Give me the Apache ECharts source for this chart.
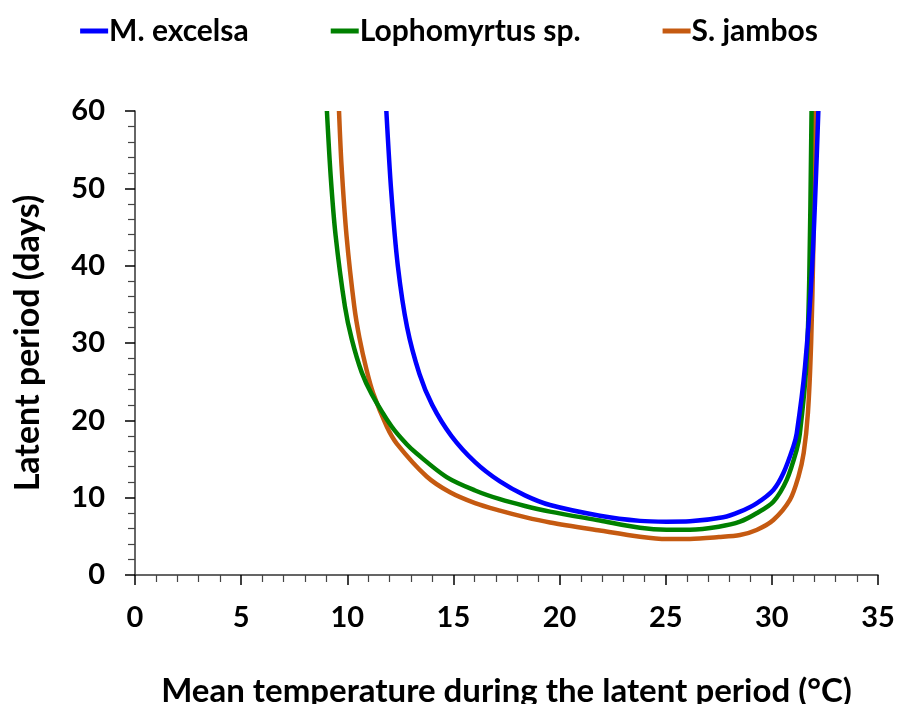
<!DOCTYPE html>
<html>
<head>
<meta charset="utf-8">
<script src="https://cdn.jsdelivr.net/npm/echarts@6/dist/echarts.min.js"></script>
<style>
html,body{margin:0;padding:0;background:#fff;}
#chart{width:898px;height:704px;}
</style>
</head>
<body>
<div id="chart"></div>
<script>
// Series names
var seriesNames = ['M. excelsa', 'Lophomyrtus sp.', 'S. jambos'];

// [temperature (°C), latent period (days)]
var mExcelsa = [
  [11.84, 60], [12.07, 49.6], [12.38, 40], [12.82, 32], [13.4, 26],
  [14.0, 22], [14.9, 18], [16.02, 14.6], [17.19, 12.1], [18.37, 10.3],
  [19.55, 9.05], [21.9, 7.67], [23.79, 7.0], [25.04, 6.9], [26.14, 6.95],
  [27.71, 7.46], [28.5, 8.19], [29.28, 9.27], [30.07, 11.0], [30.54, 13.15],
  [31.01, 16.6], [31.17, 18.3], [31.56, 26.9], [31.9, 40], [32.19, 60]
];
var lophomyrtus = [
  [9.04, 60], [9.22, 51.5], [9.45, 43.9], [9.89, 34.7], [10.21, 30.5],
  [10.68, 26.2], [11.15, 23.4], [12.09, 19.2], [12.8, 16.9], [13.27, 15.7],
  [14.68, 12.66], [16.02, 10.93], [17.19, 9.8], [18.37, 8.93], [19.55, 8.2],
  [21.9, 7.04], [23.79, 6.1], [25.04, 5.85], [26.14, 5.86], [27.5, 6.25],
  [28.5, 6.9], [29.28, 7.98], [30.07, 9.48], [30.7, 12.3], [31.17, 16.2],
  [31.32, 18.3], [31.62, 26.9], [31.76, 38], [31.87, 60]
];
var sJambos = [
  [9.61, 60], [9.73, 52.9], [9.97, 43.7], [10.33, 34.7], [10.57, 30.7],
  [10.91, 26.5], [11.22, 23.5], [11.86, 19.2], [12.33, 17.0], [13.74, 12.74],
  [14.84, 10.7], [16.02, 9.3], [17.19, 8.33], [18.37, 7.49], [19.55, 6.8],
  [21.9, 5.75], [23.79, 4.95], [25.04, 4.65], [26.14, 4.66], [27.5, 4.9],
  [28.5, 5.17], [29.28, 5.82], [30.07, 7.11], [30.85, 9.7], [31.25, 12.7],
  [31.5, 15.8], [31.7, 21.0], [31.85, 30], [31.95, 42], [32.03, 60]
];

var colors = ['#0000FF', '#008000', '#C55A11'];
var xTitle = 'Mean temperature during the latent period (°C)';
var yTitle = 'Latent period (days)';

var FONT = 'Lato';
var chart = echarts.init(document.getElementById('chart'));
var dataSets = [mExcelsa, lophomyrtus, sJambos];

chart.setOption({
  animation: false,
  backgroundColor: '#ffffff',
  textStyle: { fontFamily: FONT },
  color: colors,
  legend: {
    top: 11,
    left: 'center',
    itemGap: 82,
    itemWidth: 28,
    itemHeight: 5,
    icon: 'rect',
    textStyle: { fontFamily: FONT, fontWeight: 'bold', fontSize: 30, color: '#000', padding: [0, 0, 0, -4] },
    data: seriesNames
  },
  grid: { left: 135, right: 20, top: 111, bottom: 129, containLabel: false, outerBoundsMode: 'none' },
  xAxis: {
    type: 'value', min: 0, max: 35, interval: 5,
    name: xTitle, nameLocation: 'middle', nameGap: 100,
    nameTextStyle: { fontFamily: FONT, fontWeight: 'bold', fontSize: 33, color: '#000' },
    axisLine: { show: true, lineStyle: { color: '#333', width: 1.5 } },
    axisTick: { show: true, inside: false, length: 10, lineStyle: { color: '#000', width: 1.5 } },
    minorTick: { show: true, splitNumber: 5, length: 7, lineStyle: { color: '#444', width: 1.2 } },
    splitLine: { show: false },
    axisLabel: { fontFamily: FONT, fontWeight: 'bold', fontSize: 29, color: '#000', margin: 28 }
  },
  yAxis: {
    type: 'value', min: 0, max: 60, interval: 10,
    name: yTitle, nameLocation: 'middle', nameGap: 90, nameRotate: 90,
    nameTextStyle: { fontFamily: FONT, fontWeight: 'bold', fontSize: 34, color: '#000' },
    axisLine: { show: true, lineStyle: { color: '#333', width: 1.5 } },
    axisTick: { show: true, inside: false, length: 10, lineStyle: { color: '#000', width: 1.5 } },
    minorTick: { show: true, splitNumber: 5, length: 7, lineStyle: { color: '#444', width: 1.2 } },
    splitLine: { show: false },
    axisLabel: { fontFamily: FONT, fontWeight: 'bold', fontSize: 29, color: '#000', margin: 30 }
  },
  series: seriesNames.map(function (n, i) {
    return {
      name: n, type: 'line', data: dataSets[i],
      smooth: 0.3, showSymbol: false, symbol: 'none',
      lineStyle: { width: 4.5, color: colors[i] },
      itemStyle: { color: colors[i] },
      clip: true, z: 3 - i
    };
  })
});
</script>
</body>
</html>
